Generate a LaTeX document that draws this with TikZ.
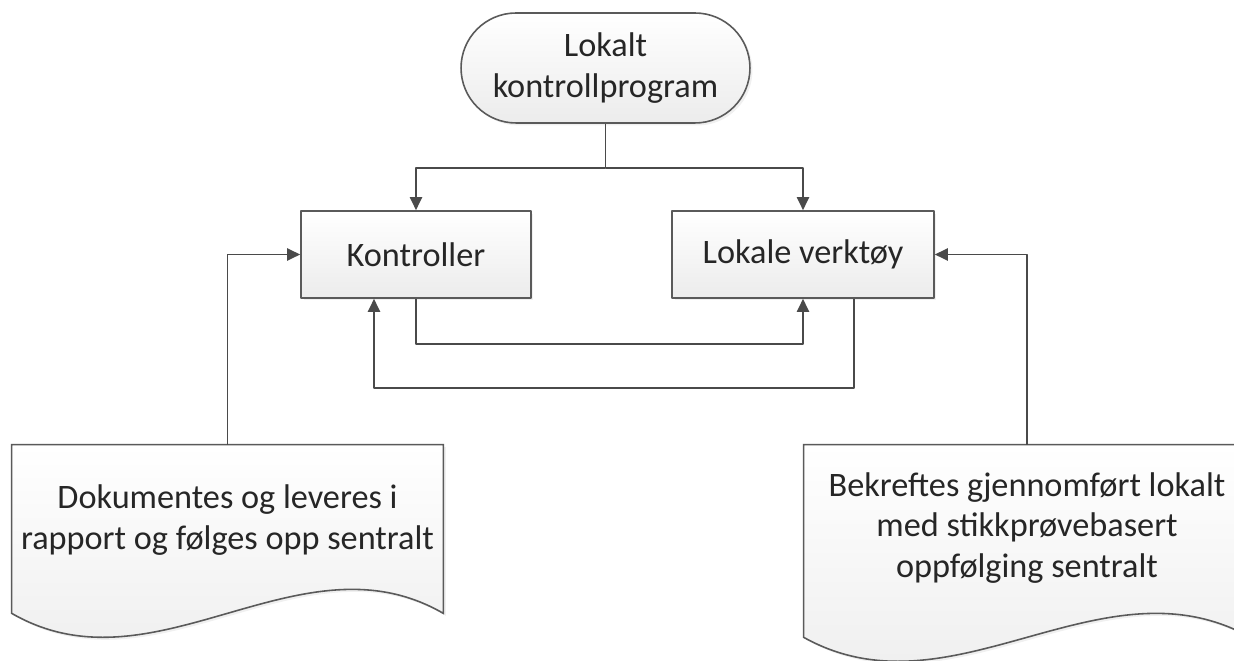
\documentclass[tikz,border=0pt]{standalone}
\usepackage{fontspec}
\setmainfont{Carlito}
\usetikzlibrary{arrows.meta,calc,shapes.misc,shadows,backgrounds}
\definecolor{kant}{HTML}{5A5A5A}
\definecolor{linje}{HTML}{4A4A4A}
\definecolor{tekst}{HTML}{262626}
\tikzset{
  flate/.style={draw=kant,line width=0.9pt,top color=white,bottom color=gray!15,
    drop shadow={opacity=0.12,shadow xshift=0.05cm,shadow yshift=-0.05cm}},
  terminal/.style={flate,rounded rectangle,minimum width=5.78cm,minimum height=2.2cm,
    text=tekst,align=center,inner sep=0pt},
  boks/.style={flate,rectangle,minimum height=1.74cm,text=tekst,inner sep=0pt},
  dok/.style={rectangle,text=tekst,align=center,inner sep=0pt},
  pil/.style={draw=linje,line width=1.1pt,-{Triangle[length=0.26cm,width=0.24cm]}},
}
% dokumentform: #1 node, #2 hvor langt sidene går under noden (px)
\newcommand\dokform[2]{%
  \path[flate] (#1.north west) -- (#1.north east) -- ($(#1.south east)+(0,#2)$)
    .. controls ($(#1.south east)!0.333!(#1.south west)+(0,#2-83)$)
    and ($(#1.south east)!0.667!(#1.south west)+(0,#2+83)$)
    .. ($(#1.south west)+(0,#2)$) -- cycle;}
\begin{document}
\begin{tikzpicture}[x=0.02cm,y=-0.02cm,font=\fontsize{19.5}{23}\selectfont,line join=round]
  \path[use as bounding box,clip] (0,0) rectangle (1234,661);
  \node[terminal] (prog) at (605.5,68) {Lokalt\\kontrollprogram};
  \node[boks,minimum width=4.6cm] (ktr) at (416,254.5) {Kontroller};
  \node[boks,minimum width=5.24cm] (vkt) at (803,254.5) {Lokale verktøy};
  \node[dok,minimum width=8.62cm,minimum height=3cm] (dokv) at (227.5,520)
    {Dokumentes og leveres i\\rapport og følges opp sentralt};
  \node[dok,minimum width=8.92cm,minimum height=3.32cm] (dokh) at (1027,528)
    {Bekreftes gjennomført lokalt\\med stikkprøvebasert\\oppfølging sentralt};
  \begin{scope}[on background layer]
    \clip (0,0) rectangle (1234,661);
    \dokform{dokv}{18}
    \dokform{dokh}{26}
  \end{scope}
  % piler
  \draw[pil] (prog.south) -- ++(0,44) coordinate (gren) -| (ktr.north);
  \draw[pil] (gren) -| (vkt.north);
  \draw[pil] (ktr.south) -- ++(0,45) -| (vkt.south);
  \draw[pil] ($(vkt.south)+(51,0)$) -- ++(0,89) -| ($(ktr.south)+(-42,0)$);
  \draw[pil] (dokv.north) |- (ktr.west);
  \draw[pil] (dokh.north) |- (vkt.east);
\end{tikzpicture}
\end{document}
